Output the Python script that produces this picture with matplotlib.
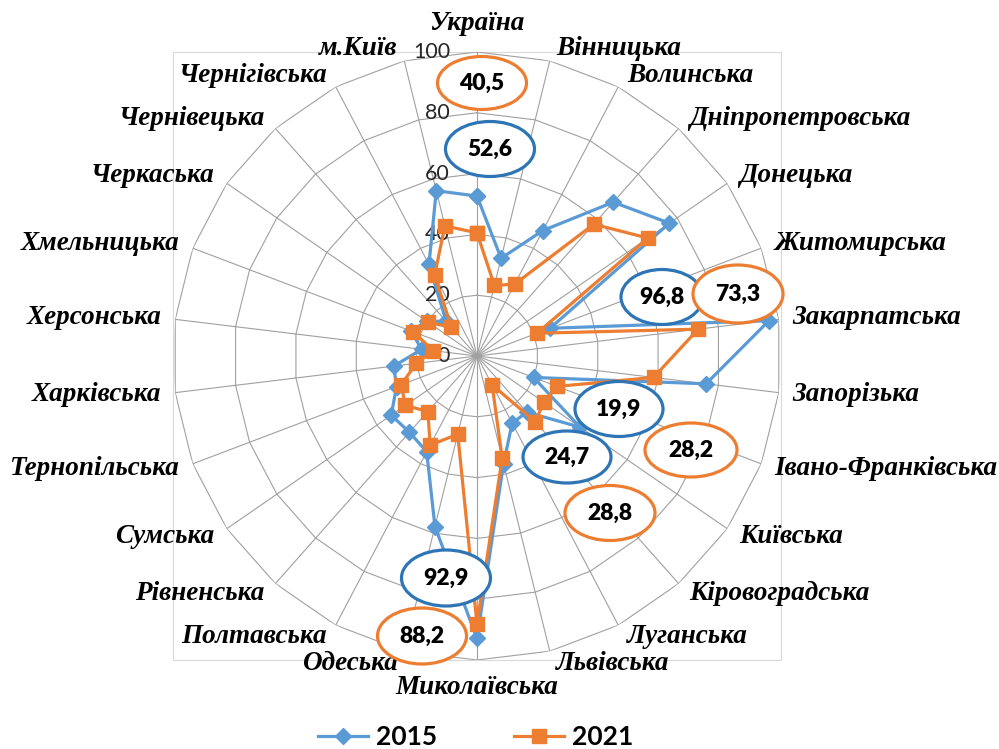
import numpy as np
import matplotlib
matplotlib.use("Agg")
import matplotlib.pyplot as plt
from matplotlib.patches import Ellipse, Rectangle

# ---------------- data ----------------
categories = ['Україна', 'Вінницька', 'Волинська', 'Дніпропетровська', 'Донецька',
              'Житомирська', 'Закарпатська', 'Запорізька', 'Івано-Франківська',
              'Київська', 'Кіровоградська', 'Луганська', 'Львівська', 'Миколаївська',
              'Одеська', 'Полтавська', 'Рівненська', 'Сумська', 'Тернопільська',
              'Харківська', 'Херсонська', 'Хмельницька', 'Черкаська', 'Чернівецька',
              'Чернігівська', 'м.Київ']
v2015 = [52.6, 33.1, 46.6, 67.6, 76.9, 25.7, 96.8, 75.9, 19.9, 41.2, 24.7, 24.9, 36.5,
         92.9, 57.8, 35.6, 33.5, 34.3, 28.3, 27.6, 18.3, 23.3, 20.0, 15.3, 34.0, 56.0]
v2021 = [40.5, 23.9, 26.7, 57.9, 68.3, 21.1, 73.3, 58.5, 28.2, 26.8, 28.8, 10.7, 34.6,
         88.2, 26.5, 33.1, 24.4, 28.6, 26.7, 20.1, 14.5, 22.4, 19.4, 12.7, 30.0, 44.1]
years = ['2015', '2021']
r_ticks = [0, 20, 40, 60, 80, 100]

# highlighted values: (category index, series index)
callouts = [(0, 1), (0, 0), (6, 0), (6, 1), (8, 0), (10, 0), (8, 1), (10, 1), (13, 0), (13, 1)]
# callout placement in image pixels: centre x, centre y, width, height
callout_place = [(482, 83, 89, 53), (490, 149, 89, 55), (662, 297, 82, 55), (738, 294, 90, 58),
                 (619, 409, 88, 55), (567, 457, 88, 52), (691, 450, 92, 54), (610, 513, 90, 55),
                 (446, 578, 89, 56), (422, 636, 89, 56)]

# ---------------- style ----------------
W, H = 999, 749
CX, CY, R = 477, 356, 304
blue = '#5B9BD5'
orange = '#ED7D31'
blue_dark = '#2E75B6'
grid_c = '#A0A0A0'

fig = plt.figure(figsize=(W / 100, H / 100), dpi=100)
ax = fig.add_axes([(CX - R) / W, (H - CY - R) / H, 2 * R / W, 2 * R / H], projection='polar')
ax.set_theta_zero_location('N')
ax.set_theta_direction(-1)
ax.set_ylim(0, 100)
ax.grid(False)
ax.spines['polar'].set_visible(False)
ax.set_xticks([])
ax.set_yticks([])
ax.patch.set_visible(False)

n = len(categories)
theta = np.arange(n) * 2 * np.pi / n
theta_c = np.r_[theta, theta[0]]

# polygon grid
for r in r_ticks[1:]:
    ax.plot(theta_c, [r] * (n + 1), color=grid_c, lw=0.8, zorder=1)
for t in theta:
    ax.plot([t, t], [0, 100], color=grid_c, lw=0.8, zorder=1)

# plot-area frame
ax.add_patch(Rectangle((0, 0), 1, 1, transform=ax.transAxes, fill=False,
                       edgecolor='#D9D9D9', lw=0.8, clip_on=False, zorder=0))

# series
series = [v2015, v2021]
styles = [dict(color=blue, marker='D', ms=8), dict(color=orange, marker='s', ms=9.5)]
handles = []
for vals, st, lab in zip(series, styles, years):
    h, = ax.plot(theta_c, np.r_[vals, vals[0]], lw=2.3, color=st['color'],
                 marker=st['marker'], ms=st['ms'], mfc=st['color'], mec=st['color'],
                 zorder=3, clip_on=False, label=lab)
    handles.append(h)

# radial tick labels
for r in r_ticks:
    ax.annotate(str(r), xy=(0, r), xytext=(-27, 0), textcoords='offset pixels',
                ha='right', va='center', fontsize=15.5, family='Lato', color='#262626',
                zorder=2)

# category labels
for t, name in zip(theta, categories):
    s, c = np.sin(t), np.cos(t)
    if abs(s) < 0.05:
        ha, dx, dy = 'center', 0, 28 * np.sign(c)
    else:
        ha = 'left' if s > 0 else 'right'
        dx = np.sign(s) * (4 + 10 * abs(s))
        dy = 13 * c
    ax.annotate(name, xy=(t, 100), xytext=(dx, dy), textcoords='offset pixels',
                ha=ha, va='center', fontsize=19.5, family='Liberation Serif',
                fontweight='bold', fontstyle='italic', color='black', annotation_clip=False)

# callouts
for (ci, si), (px, py, pw, ph) in zip(callouts, callout_place):
    fx = (px - (CX - R)) / (2 * R)
    fy = ((CY + R) - py) / (2 * R)
    ec = blue_dark if si == 0 else orange
    ax.add_patch(Ellipse((fx, fy), pw / (2 * R), ph / (2 * R), transform=ax.transAxes,
                         facecolor='white', edgecolor=ec, lw=2.3, zorder=5, clip_on=False))
    txt = f"{series[si][ci]:.1f}".replace('.', ',')
    ax.text(fx, fy, txt, transform=ax.transAxes, ha='center', va='center',
            fontsize=16.5, family='Lato', fontweight='heavy', color='black', zorder=6)

fig.legend(handles, years, loc='center', bbox_to_anchor=(0.476, 0.016), ncol=2,
           frameon=False, prop=dict(family='Lato', weight='bold', size=19),
           handlelength=1.9, columnspacing=2.9, handletextpad=0.3)

fig.savefig('out.png', dpi=100)
